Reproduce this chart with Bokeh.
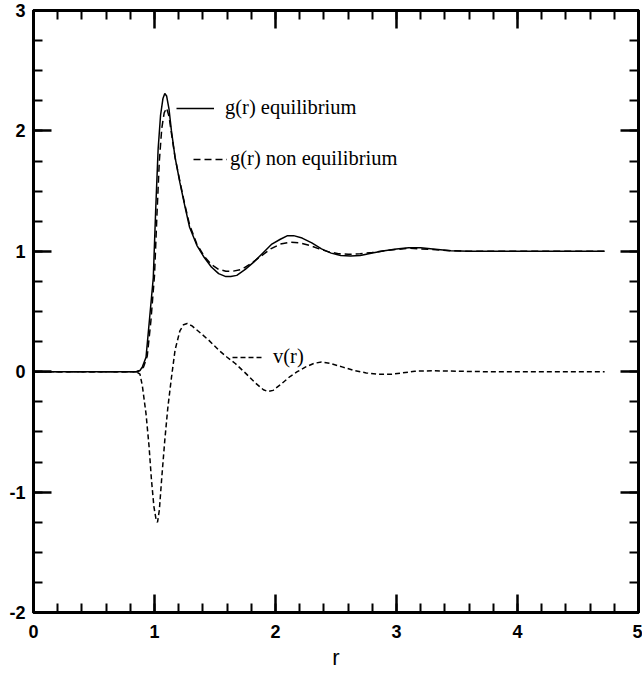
from bokeh.plotting import figure
from bokeh.models import Range1d, LinearAxis, SingleIntervalTicker, Legend, LegendItem
from bokeh.embed import file_html
from bokeh.resources import INLINE

# ---- data ----
r_eq = [0, 0.85, 0.88, 0.90, 0.93, 0.96, 0.99, 1.01, 1.03, 1.05, 1.07, 1.085, 1.10, 1.12, 1.14,
        1.17, 1.21, 1.25, 1.29, 1.35, 1.41, 1.47, 1.53, 1.59, 1.63, 1.68, 1.75, 1.82, 1.90, 1.97,
        2.04, 2.10, 2.15, 2.22, 2.30, 2.38, 2.46, 2.54, 2.62, 2.70, 2.80, 2.90, 3.00, 3.10, 3.20,
        3.30, 3.45, 3.60, 3.80, 4.00, 4.30, 4.72]
g_eq = [0, 0, 0.01, 0.04, 0.12, 0.45, 0.78, 1.35, 1.85, 2.13, 2.27, 2.31, 2.29, 2.18, 2.00,
        1.78, 1.57, 1.38, 1.20, 1.05, 0.95, 0.87, 0.815, 0.79, 0.79, 0.80, 0.85, 0.91, 0.99, 1.06,
        1.10, 1.13, 1.13, 1.11, 1.07, 1.02, 0.985, 0.965, 0.96, 0.965, 0.985, 1.005, 1.02, 1.03, 1.03,
        1.02, 1.005, 1.0, 1.0, 1.0, 1.0, 1.0]

r_neq = [0, 0.85, 0.88, 0.91, 0.94, 0.97, 1.00, 1.02, 1.04, 1.06, 1.08, 1.10, 1.12, 1.14, 1.17,
         1.21, 1.25, 1.29, 1.35, 1.41, 1.47, 1.53, 1.59, 1.65, 1.72, 1.80, 1.88, 1.96, 2.04, 2.12,
         2.20, 2.28, 2.36, 2.44, 2.52, 2.60, 2.70, 2.80, 2.90, 3.00, 3.10, 3.20, 3.30, 3.45, 3.60,
         3.80, 4.00, 4.30, 4.72]
g_neq = [0, 0, 0.01, 0.04, 0.13, 0.42, 0.80, 1.30, 1.75, 2.02, 2.15, 2.19, 2.12, 1.98, 1.78,
         1.58, 1.39, 1.22, 1.06, 0.96, 0.89, 0.85, 0.835, 0.835, 0.85, 0.90, 0.96, 1.02, 1.06, 1.075,
         1.07, 1.05, 1.02, 0.995, 0.98, 0.975, 0.98, 0.99, 1.005, 1.015, 1.025, 1.02, 1.015, 1.005, 1.0,
         1.0, 1.0, 1.0, 1.0]

r_v = [0, 0.85, 0.88, 0.90, 0.93, 0.955, 0.975, 0.995, 1.015, 1.025, 1.04, 1.06, 1.085, 1.11, 1.14,
       1.17, 1.21, 1.24, 1.27, 1.31, 1.37, 1.45, 1.53, 1.60, 1.67, 1.75, 1.83, 1.90, 1.94, 1.98,
       2.05, 2.12, 2.18, 2.25, 2.32, 2.38, 2.45, 2.55, 2.65, 2.75, 2.85, 2.95, 3.05, 3.15, 3.30,
       3.50, 3.75, 4.00, 4.40, 4.72]
v = [0, 0, -0.02, -0.12, -0.35, -0.62, -0.90, -1.12, -1.24, -1.25, -1.15, -0.88, -0.57, -0.30, -0.05,
     0.18, 0.34, 0.39, 0.40, 0.38, 0.33, 0.26, 0.18, 0.12, 0.066, -0.01, -0.09, -0.15, -0.165, -0.155,
     -0.10, -0.04, 0.0, 0.04, 0.07, 0.08, 0.07, 0.04, 0.01, -0.01, -0.022, -0.022, -0.01, 0.004, 0.008,
     0.004, 0.0, 0.0, 0.0, 0.0]

labels = ["g(r) equilibrium", "g(r) non equilibrium", "v(r)"]
x_ticks = [0, 1, 2, 3, 4, 5]
y_ticks = [-2, -1, 0, 1, 2, 3]
y_tick_labels = {-2: "-2", -1: "-1", 0: "0", 1: "1", 2: "2", 3: "3"}

# ---- figure ----
p = figure(frame_width=605, frame_height=602, x_range=Range1d(0, 5), y_range=Range1d(-2, 3),
           output_backend="svg", toolbar_location=None,
           min_border_left=33, min_border_right=4, min_border_top=10, min_border_bottom=61)
p.grid.visible = False
p.outline_line_color = "black"
p.outline_line_width = 3
p.background_fill_color = "white"
p.border_fill_color = "white"

xt = SingleIntervalTicker(interval=1, num_minor_ticks=5)
yt = SingleIntervalTicker(interval=1, num_minor_ticks=4)

bottom = p.below[0]
left = p.left[0]
bottom.ticker = xt
left.ticker = yt
top = LinearAxis(ticker=xt)
right = LinearAxis(ticker=yt)
p.add_layout(top, "above")
p.add_layout(right, "right")

for ax in (bottom, left, top, right):
    ax.axis_line_width = 3
    ax.axis_line_color = "black"
    ax.major_tick_in = 18
    ax.major_tick_out = 0
    ax.minor_tick_in = 9
    ax.minor_tick_out = 0
    ax.major_tick_line_width = 2.5
    ax.minor_tick_line_width = 2
    ax.major_tick_line_color = "black"
    ax.minor_tick_line_color = "black"
    ax.major_label_text_font = "Liberation Sans"
    ax.major_label_text_font_size = "18px"
    ax.major_label_text_font_style = "bold"
    ax.major_label_text_color = "black"

top.major_label_overrides = {t: "" for t in x_ticks}
right.major_label_overrides = {t: "" for t in y_ticks}
for ax in (top, right):
    ax.major_label_standoff = 0
    ax.major_label_text_font_size = "0px"

left.major_label_overrides = y_tick_labels
left.major_label_standoff = 8

bottom.major_label_standoff = 12
bottom.axis_label = "r"
bottom.axis_label_standoff = 4
bottom.axis_label_text_font = "Liberation Sans"
bottom.axis_label_text_font_size = "22px"
bottom.axis_label_text_font_style = "normal"
bottom.axis_label_text_color = "black"

r1 = p.line(r_eq, g_eq, line_color="black", line_width=1.5)
r2 = p.line(r_neq, g_neq, line_color="black", line_width=1.5, line_dash="7 4")
r3 = p.line(r_v, v, line_color="black", line_width=1.5, line_dash="5 3")


def add_leg(label, rend, loc, gw, so):
    leg = Legend(items=[LegendItem(label=label, renderers=[rend])], location=loc,
                 glyph_width=gw, label_standoff=so, margin=0, padding=0,
                 border_line_color=None, background_fill_alpha=0,
                 label_text_font="Liberation Serif", label_text_font_size="20.5px",
                 label_text_color="black")
    p.add_layout(leg, "center")


add_leg(labels[0], r1, (143, 493), 38, 11)
add_leg(labels[1], r2, (160, 442), 34, 3)
add_leg(labels[2], r3, (199, 244), 31, 10)

open("out.html", "w").write(file_html(p, INLINE))
